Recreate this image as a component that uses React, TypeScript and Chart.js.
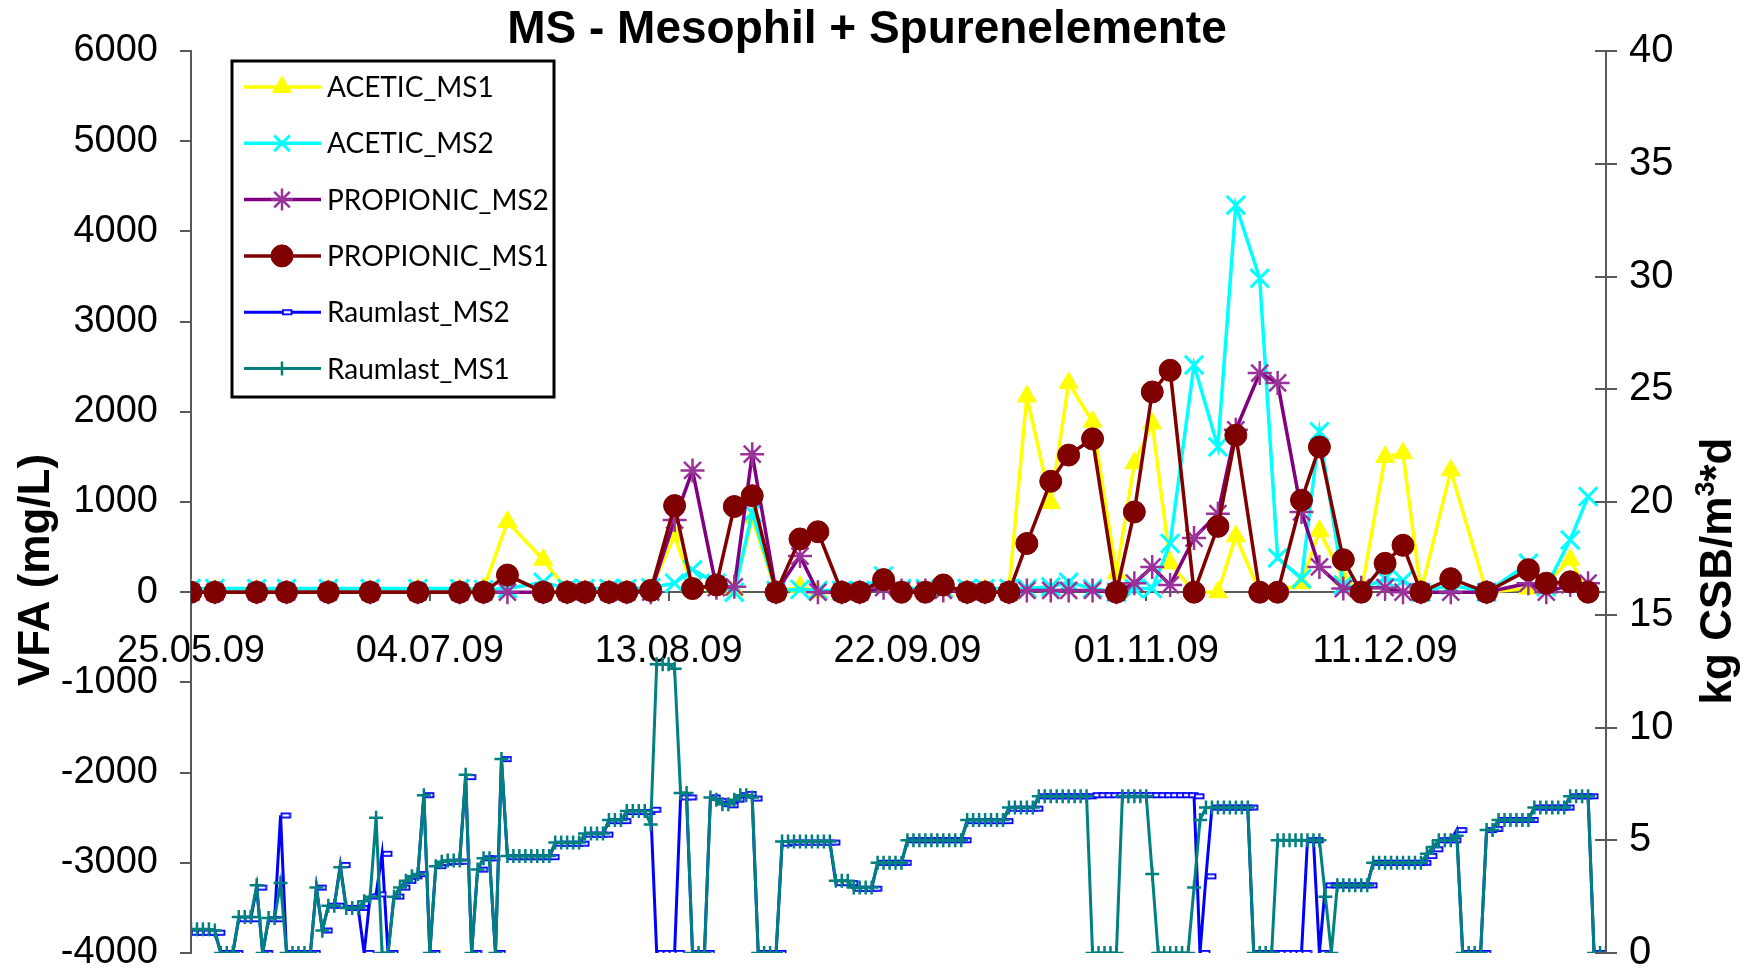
import React, { useEffect, useRef } from 'react';
import { Chart, registerables } from 'chart.js';
import { drawPoint } from 'chart.js/helpers';

Chart.register(...registerables);

// ---------- DATA ----------
const startDate = '25.05.09';
const xMaxDay = 237;
const xTickStepDays = 40;

const sampleDates = [
  '25.05.09', '29.05.09', '05.06.09', '10.06.09', '17.06.09', '24.06.09', '02.07.09', '09.07.09', '13.07.09', '17.07.09',
  '23.07.09', '27.07.09', '30.07.09', '03.08.09', '06.08.09', '10.08.09', '14.08.09', '17.08.09', '21.08.09', '24.08.09',
  '27.08.09', '31.08.09', '04.09.09', '07.09.09', '11.09.09', '14.09.09', '18.09.09', '21.09.09', '25.09.09', '28.09.09',
  '02.10.09', '05.10.09', '09.10.09', '12.10.09', '16.10.09', '19.10.09', '23.10.09', '27.10.09', '30.10.09', '02.11.09',
  '05.11.09', '09.11.09', '13.11.09', '16.11.09', '20.11.09', '23.11.09', '27.11.09', '30.11.09', '04.12.09', '07.12.09',
  '11.12.09', '14.12.09', '17.12.09', '22.12.09', '28.12.09', '04.01.10', '07.01.10', '11.01.10', '14.01.10',
];

const aceticMS1 = [
  20, 20, 20, 10, 20, 20, 30, 30, 40, 780,
  360, 20, 20, 20, 20, 30, 630, 50, 40, 20,
  820, 0, 60, 0, 10, 10, 80, 0, 20, 20,
  20, 30, 30, 2170, 990, 2320, 1890, 210, 1430, 1870,
  320, 0, 0, 620, 0, 0, 100, 680, 150, 0,
  1500, 1540, 0, 1350, 0, 40, 100, 360, 0,
];

const aceticMS2 = [
  40, 40, 40, 40, 40, 40, 40, 40, 30, 40,
  110, 40, 40, 40, 40, 50, 100, 250, 100, 0,
  880, 20, 30, 20, 20, 20, 180, 40, 40, 40,
  40, 40, 40, 40, 60, 110, 40, 0, 40, 40,
  540, 2520, 1610, 4290, 3480, 380, 150, 1780, 80, 40,
  150, 130, 0, 80, 0, 320, 60, 580, 1060,
];

const propionicMS2 = [
  0, 0, 0, 0, 0, 0, 0, 0, 0, 0,
  0, 0, 0, 0, 0, 0, 800, 1350, 50, 60,
  1530, 0, 400, 0, 0, 0, 50, 20, 20, 20,
  0, 0, 0, 20, 20, 20, 20, 0, 100, 280,
  80, 600, 870, 1800, 2430, 2320, 890, 280, 40, 50,
  50, 0, 0, 0, 0, 100, 0, 80, 100,
];

const propionicMS1 = [
  0, 0, 0, 0, 0, 0, 0, 0, 0, 190,
  0, 0, 0, 0, 0, 20, 960, 40, 80, 950,
  1070, 0, 590, 670, 0, 0, 140, 0, 0, 80,
  0, 0, 0, 540, 1230, 1520, 1700, 0, 890, 2220,
  2460, 0, 730, 1740, 0, 0, 1020, 1610, 360, 0,
  320, 520, 0, 150, 0, 250, 100, 115, 0,
];

// daily values, first value on startDate (kg CSB/m³*d)
const raumlastMS2 = [
  0.9, 0.9, 0.9, 0.9, 0.9, 0, 0, 0, 1.5, 1.5,
  1.5, 2.9, 0, 1.5, 1.5, 6.1, 0, 0, 0, 0,
  0, 2.9, 1.0, 2.1, 2.1, 3.9, 2.0, 2.0, 2.0, 0,
  2.5, 2.6, 4.4, 0, 2.5, 2.9, 3.2, 3.4, 3.5, 7.0,
  0, 3.85, 4.0, 4.05, 4.05, 4.05, 7.8, 0, 3.7, 4.2,
  4.2, 0, 8.6, 4.25, 4.25, 4.25, 4.25, 4.25, 4.25, 4.25,
  4.25, 4.85, 4.85, 4.85, 4.85, 4.85, 5.25, 5.25, 5.25, 5.25,
  5.85, 5.85, 5.85, 6.25, 6.25, 6.25, 6.25, 6.35, 0, 0,
  0, 0, 6.9, 6.9, 0, 0, 0, 6.9, 6.75, 6.6,
  6.55, 6.8, 7.0, 7.05, 6.85, 0, 0, 0, 0, 4.85,
  4.9, 4.9, 4.9, 4.9, 4.9, 4.9, 4.9, 4.9, 3.1, 3.1,
  3.1, 2.85, 2.85, 2.85, 2.85, 4.0, 4.0, 4.0, 4.0, 4.0,
  5.0, 5.0, 5.0, 5.0, 5.0, 5.0, 5.0, 5.0, 5.0, 5.0,
  5.85, 5.85, 5.85, 5.85, 5.85, 5.85, 5.85, 6.4, 6.4, 6.4,
  6.4, 6.4, 6.95, 6.95, 6.95, 6.95, 6.95, 6.95, 6.95, 6.95,
  6.95, 7.0, 7.0, 7.0, 7.0, 7.0, 7.0, 7.0, 7.0, 7.0,
  7.0, 7.0, 7.0, 7.0, 7.0, 7.0, 7.0, 7.0, 6.95, 0,
  3.4, 6.45, 6.45, 6.45, 6.45, 6.45, 6.45, 6.45, 0, 0,
  0, 0, 0, 0, 0, 0, 0, 5.0, 5.0, 0,
  3.0, 3.0, 3.0, 3.0, 3.0, 3.0, 3.0, 3.0, 4.0, 4.0,
  4.0, 4.0, 4.0, 4.0, 4.0, 4.0, 4.0, 4.3, 4.6, 5.0,
  5.0, 5.0, 5.45, 0, 0, 0, 0, 5.45, 5.5, 5.9,
  5.9, 5.9, 5.9, 5.9, 5.9, 6.45, 6.45, 6.45, 6.45, 6.45,
  6.45, 6.95, 6.95, 6.95, 6.95, 0, 0, 0,
];

const raumlastMS1 = [
  1.05, 1.05, 1.05, 1.05, 1.0, 0, 0, 0, 1.6, 1.6,
  1.6, 3.0, 0, 1.55, 1.55, 3.1, 0, 0, 0, 0,
  0, 2.9, 1.0, 2.1, 2.1, 3.8, 2.0, 2.0, 2.0, 2.3,
  2.5, 6.0, 0, 0, 2.5, 2.9, 3.2, 3.4, 3.5, 7.0,
  0, 3.85, 4.05, 4.1, 4.1, 4.1, 7.9, 0, 3.7, 4.2,
  4.2, 0, 8.6, 4.3, 4.3, 4.3, 4.3, 4.3, 4.3, 4.3,
  4.3, 4.9, 4.9, 4.9, 4.9, 4.9, 5.3, 5.3, 5.3, 5.3,
  5.9, 5.9, 5.9, 6.3, 6.3, 6.3, 6.3, 5.7, 12.8, 12.8,
  12.8, 12.6, 7.1, 7.1, 0, 0, 0, 6.9, 6.8, 6.6,
  6.6, 6.8, 7.0, 7.0, 6.9, 0, 0, 0, 0, 4.95,
  4.95, 4.95, 4.95, 4.95, 4.95, 4.95, 4.95, 4.95, 3.2, 3.2,
  3.2, 2.9, 2.9, 2.9, 2.9, 4.0, 4.0, 4.0, 4.0, 4.0,
  5.0, 5.0, 5.0, 5.0, 5.0, 5.0, 5.0, 5.0, 5.0, 5.0,
  5.9, 5.9, 5.9, 5.9, 5.9, 5.9, 5.9, 6.45, 6.45, 6.45,
  6.45, 6.45, 6.95, 6.95, 6.95, 6.95, 6.95, 6.95, 6.95, 6.95,
  6.95, 0, 0, 0, 0, 0, 6.95, 6.95, 6.95, 6.95,
  6.95, 3.5, 0, 0, 0, 0, 0, 0, 2.9, 5.9,
  6.45, 6.45, 6.45, 6.45, 6.45, 6.45, 6.45, 6.45, 0, 0,
  0, 0, 5.0, 5.0, 5.0, 5.0, 5.0, 5.0, 5.0, 5.0,
  2.5, 0, 3.0, 3.0, 3.0, 3.0, 3.0, 3.0, 4.0, 4.0,
  4.0, 4.0, 4.0, 4.0, 4.0, 4.0, 4.0, 4.4, 4.7, 5.0,
  5.0, 5.0, 5.2, 0, 0, 0, 0, 5.45, 5.45, 5.9,
  5.9, 5.9, 5.9, 5.9, 5.9, 6.45, 6.45, 6.45, 6.45, 6.45,
  6.45, 6.95, 6.95, 6.95, 6.95, 0, 0, 0,
];

const titleText = 'MS - Mesophil + Spurenelemente';
const leftAxisTitle = 'VFA (mg/L)';
const rightAxisTitleParts = ['kg CSB/m', '3', '*d'];

// ---------- HELPERS ----------
const DAY = 86400000;
function parseDate(s: string): number {
  const [d, m, y] = s.split('.').map(Number);
  return Date.UTC(2000 + y, m - 1, d);
}
const startMs = parseDate(startDate);
const toDay = (s: string) => Math.round((parseDate(s) - startMs) / DAY);
const pad2 = (n: number) => String(n).padStart(2, '0');
function formatDay(v: number): string {
  const dt = new Date(startMs + v * DAY);
  return `${pad2(dt.getUTCDate())}.${pad2(dt.getUTCMonth() + 1)}.${pad2(dt.getUTCFullYear() % 100)}`;
}
const vfaPoints = (vals: number[]) => vals.map((v, i) => ({ x: toDay(sampleDates[i]), y: v }));
const dailyPoints = (vals: number[]) => vals.map((v, i) => ({ x: i, y: v }));

function makeDashMarker(color: string): HTMLCanvasElement {
  const c = document.createElement('canvas');
  c.width = 22;
  c.height = 8;
  const g = c.getContext('2d')!;
  g.fillStyle = '#ffffff';
  g.fillRect(12, 2, 8, 4);
  g.strokeStyle = color;
  g.lineWidth = 1.8;
  g.strokeRect(11.9, 1.9, 8.6, 4.2);
  return c;
}

const FONT = "'Liberation Sans', Arial, sans-serif";
const AXIS_COLOR = '#595959';

const noPad = (s: any) => {
  s.paddingTop = 0;
  s.paddingBottom = 0;
  s.paddingLeft = 0;
  s.paddingRight = 0;
};

const overlayPlugin = {
  id: 'overlay',
  afterDraw(chart: any) {
    const ctx: CanvasRenderingContext2D = chart.ctx;
    const ca = chart.chartArea;
    ctx.save();
    // inner half of right-axis tick marks
    const s2 = chart.scales.y2;
    ctx.strokeStyle = AXIS_COLOR;
    ctx.lineWidth = 2;
    s2.ticks.forEach((t: any) => {
      const py = Math.round(s2.getPixelForValue(t.value));
      ctx.beginPath();
      ctx.moveTo(s2.left - 11, py);
      ctx.lineTo(s2.left, py);
      ctx.stroke();
    });

    // title
    ctx.fillStyle = '#000';
    ctx.font = `bold 46px ${FONT}`;
    ctx.textAlign = 'center';
    ctx.textBaseline = 'alphabetic';
    ctx.fillText(titleText, 867, 43);

    // left axis title
    ctx.font = `bold 44px ${FONT}`;
    ctx.textBaseline = 'middle';
    ctx.save();
    ctx.translate(37, 570);
    ctx.rotate(-Math.PI / 2);
    ctx.fillText(leftAxisTitle, 0, 0);
    ctx.restore();

    // right axis title with superscript
    ctx.save();
    ctx.translate(1715, 571);
    ctx.rotate(-Math.PI / 2);
    const mainFont = `bold 44px ${FONT}`;
    const supFont = `bold 27px ${FONT}`;
    ctx.font = mainFont;
    const w0 = ctx.measureText(rightAxisTitleParts[0]).width;
    const w2 = ctx.measureText(rightAxisTitleParts[2]).width;
    ctx.font = supFont;
    const w1 = ctx.measureText(rightAxisTitleParts[1]).width;
    let xs = -(w0 + w1 + w2) / 2;
    ctx.textAlign = 'left';
    ctx.textBaseline = 'alphabetic';
    ctx.font = mainFont;
    ctx.fillText(rightAxisTitleParts[0], xs, 16);
    xs += w0;
    ctx.font = supFont;
    ctx.fillText(rightAxisTitleParts[1], xs, -1);
    xs += w1;
    ctx.font = mainFont;
    ctx.fillText(rightAxisTitleParts[2], xs, 16);
    ctx.restore();

    // legend box
    const x0 = ca.left + 41;
    const y0 = ca.top + 10;
    const w = 322;
    const h = 336;
    ctx.fillStyle = '#fff';
    ctx.fillRect(x0, y0, w, h);
    ctx.strokeStyle = '#000';
    ctx.lineWidth = 3;
    ctx.strokeRect(x0, y0, w, h);
    chart.data.datasets.forEach((ds: any, i: number) => {
      const y = y0 + 26 + i * 56.3;
      ctx.strokeStyle = ds.borderColor;
      ctx.lineWidth = ds.borderWidth;
      ctx.beginPath();
      ctx.moveTo(x0 + 12, y);
      ctx.lineTo(x0 + 89, y);
      ctx.stroke();
      ctx.fillStyle = ds.pointBackgroundColor;
      ctx.strokeStyle = ds.pointBorderColor;
      ctx.lineWidth = ds.pointBorderWidth;
      drawPoint(ctx, { pointStyle: ds.pointStyle, radius: Math.min(ds.pointRadius, 11), borderWidth: ds.pointBorderWidth, rotation: 0 } as any, x0 + 50, y);
      ctx.fillStyle = '#000';
      ctx.font = "28px Lato, 'Liberation Sans', sans-serif";
      ctx.textAlign = 'left';
      ctx.textBaseline = 'middle';
      ctx.fillText(ds.label, x0 + 95, y + 1);
    });
    ctx.restore();
  },
};

export default function App() {
  const ref = useRef<HTMLCanvasElement>(null);
  useEffect(() => {
    const dash = makeDashMarker('#0000FF');
    const datasets: any[] = [
      {
        label: 'ACETIC_MS1', data: vfaPoints(aceticMS1), yAxisID: 'y', order: 6,
        borderColor: '#FFFF00', borderWidth: 3.5, pointStyle: 'triangle', pointRadius: 11,
        pointBackgroundColor: '#FFFF00', pointBorderColor: '#FFFF00', pointBorderWidth: 1,
      },
      {
        label: 'ACETIC_MS2', data: vfaPoints(aceticMS2), yAxisID: 'y', order: 5,
        borderColor: '#00FFFF', borderWidth: 3.5, pointStyle: 'crossRot', pointRadius: 13,
        pointBackgroundColor: '#00FFFF', pointBorderColor: '#00FFFF', pointBorderWidth: 3,
      },
      {
        label: 'PROPIONIC_MS2', data: vfaPoints(propionicMS2), yAxisID: 'y', order: 4,
        borderColor: '#800080', borderWidth: 3.5, pointStyle: 'star', pointRadius: 12,
        pointBackgroundColor: '#993399', pointBorderColor: '#993399', pointBorderWidth: 2.5,
      },
      {
        label: 'PROPIONIC_MS1', data: vfaPoints(propionicMS1), yAxisID: 'y', order: 3,
        borderColor: '#800000', borderWidth: 3.5, pointStyle: 'circle', pointRadius: 11,
        pointBackgroundColor: '#800000', pointBorderColor: '#800000', pointBorderWidth: 1,
      },
      {
        label: 'Raumlast_MS2', data: dailyPoints(raumlastMS2), yAxisID: 'y2', order: 2,
        borderColor: '#0000FF', borderWidth: 3, pointStyle: dash, pointRadius: 5,
        pointBackgroundColor: '#0000FF', pointBorderColor: '#0000FF', pointBorderWidth: 1.5,
      },
      {
        label: 'Raumlast_MS1', data: dailyPoints(raumlastMS1), yAxisID: 'y2', order: 1,
        borderColor: '#008080', borderWidth: 3, pointStyle: 'cross', pointRadius: 7,
        pointBackgroundColor: '#008080', pointBorderColor: '#008080', pointBorderWidth: 2.5,
      },
    ];
    const tickFont = { family: FONT, size: 38 };
    const chart = new Chart(ref.current!, {
      type: 'line',
      data: { datasets },
      options: {
        responsive: false,
        animation: false,
        devicePixelRatio: 1,
        layout: { padding: { top: 51, bottom: 20, left: 0, right: 0 } },
        elements: { line: { tension: 0 } },
        plugins: { legend: { display: false }, tooltip: { enabled: false }, title: { display: false } },
        scales: {
          x: {
            type: 'linear',
            min: 0,
            max: xMaxDay,
            position: { y: 0 } as any,
            afterFit: (s: any) => { s.height = 0; noPad(s); },
            ticks: {
              stepSize: xTickStepDays,
              includeBounds: false,
              autoSkip: false,
              maxRotation: 0,
              padding: 29,
              color: '#000',
              font: tickFont,
              callback: (v: any) => formatDay(Number(v)),
            },
            grid: { drawOnChartArea: false, drawTicks: true, tickLength: 8, color: AXIS_COLOR, lineWidth: 2 },
            border: { display: true, color: AXIS_COLOR, width: 2 },
          },
          y: {
            type: 'linear',
            position: 'left',
            min: -4000,
            max: 6000,
            afterFit: (s: any) => { s.width = 191; noPad(s); },
            ticks: { stepSize: 1000, padding: 22, color: '#000', font: tickFont, callback: (v: any) => String(v) },
            grid: { drawOnChartArea: false, tickLength: 11, color: AXIS_COLOR, lineWidth: 2 },
            border: { display: true, color: AXIS_COLOR, width: 2 },
          },
          y2: {
            type: 'linear',
            position: 'right',
            min: 0,
            max: 40,
            afterFit: (s: any) => { s.width = 146; noPad(s); },
            ticks: { stepSize: 5, padding: 12, color: '#000', font: { family: FONT, size: 40 }, callback: (v: any) => String(v) },
            grid: { drawOnChartArea: false, tickLength: 11, color: AXIS_COLOR, lineWidth: 2 },
            border: { display: true, color: AXIS_COLOR, width: 2 },
          },
        },
      } as any,
      plugins: [overlayPlugin],
    });
    return () => chart.destroy();
  }, []);
  return (
    <div style={{ position: 'absolute', left: 0, top: 0, width: 1752, height: 973, background: '#fff' }}>
      <canvas ref={ref} width={1752} height={973} style={{ display: 'block' }} />
    </div>
  );
}
